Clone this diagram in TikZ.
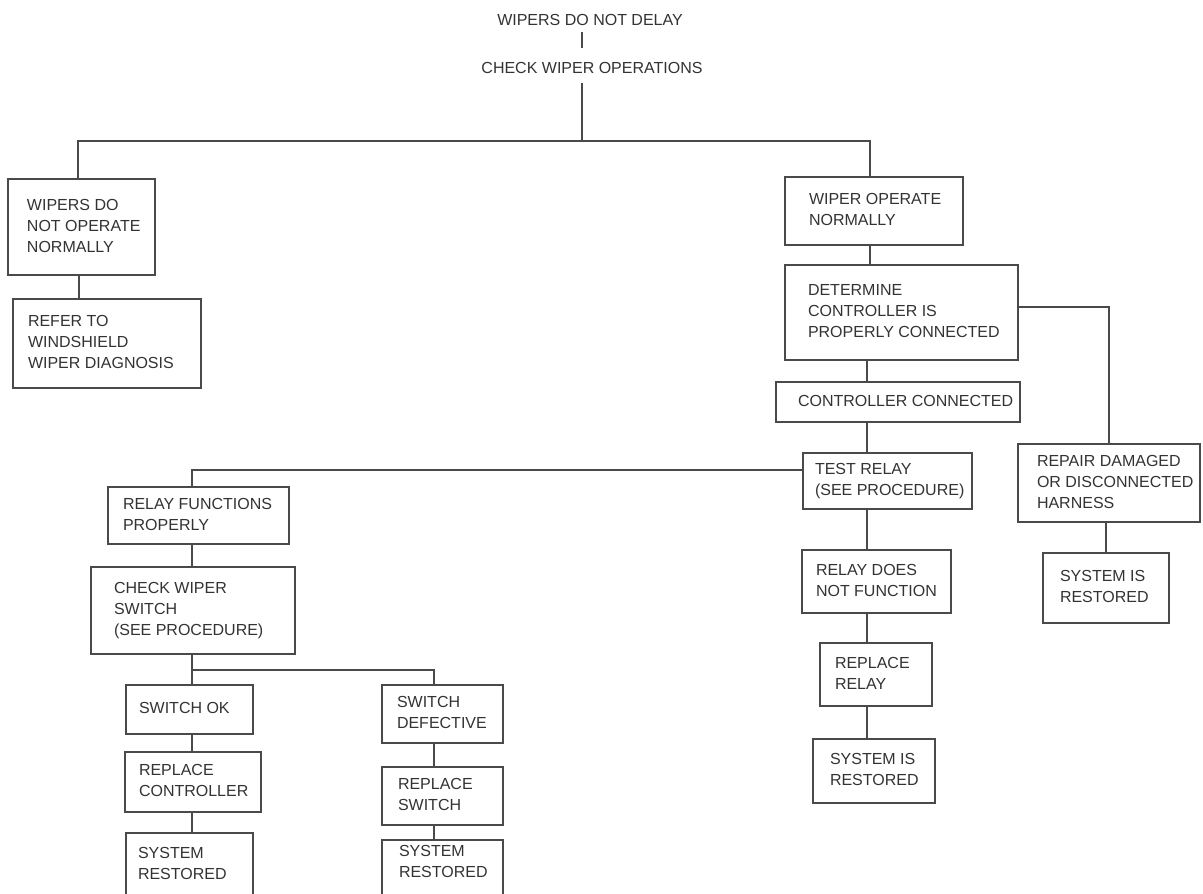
\documentclass[tikz,border=0pt]{standalone}
\usepackage{fontspec}
\setmainfont{Liberation Sans}
\usetikzlibrary{calc}
\definecolor{ink}{HTML}{333333}
\definecolor{lin}{HTML}{4A4A4A}
\newcommand\bxt[3]{\makebox[#1pt][l]{\hspace{#2pt}\begin{tabular}{@{}l@{}}#3\end{tabular}}}
\begin{document}
\begin{tikzpicture}[x=1pt,y=-1pt,
  every node/.style={font=\fontsize{16}{21}\selectfont, text=ink},
  box/.style={draw=lin, line width=1.5pt, anchor=north west, inner sep=0pt, outer sep=0pt, rectangle},
  con/.style={draw=lin, line width=1.5pt}]
\fill[white] (0,0) rectangle (1203,894);
\useasboundingbox (0,0) rectangle (1203,894);
\clip (0,0) rectangle (1203,894);

\node[inner sep=6pt] (t1) at (590,20) {WIPERS DO NOT DELAY};
\node[inner sep=9pt] (t2) at (592,68) {CHECK WIPER OPERATIONS};

\node[box, minimum height=96pt] (b1) at (8,179) {\bxt{147}{19}{WIPERS DO\\NOT OPERATE\\NORMALLY}};
\node[box, minimum height=89pt] (b2) at (13,299) {\bxt{188}{15}{REFER TO\\WINDSHIELD\\WIPER DIAGNOSIS}};
\node[box, minimum height=68pt] (b3) at (785,177) {\bxt{178}{24}{WIPER OPERATE\\NORMALLY}};
\node[box, minimum height=95pt] (b4) at (785,265) {\bxt{233}{23}{DETERMINE\\CONTROLLER IS\\PROPERLY CONNECTED}};
\node[box, minimum height=40pt] (b5) at (776,382) {\bxt{244}{22}{CONTROLLER CONNECTED}};
\node[box, minimum height=56pt] (b6) at (803,453) {\bxt{169}{12}{TEST RELAY\\(SEE PROCEDURE)}};
\node[box, minimum height=63pt] (b7) at (802,550) {\bxt{149}{14}{RELAY DOES\\NOT FUNCTION}};
\node[box, minimum height=63pt] (b8) at (820,643) {\bxt{112}{15}{REPLACE\\RELAY}};
\node[box, minimum height=64pt] (b9) at (813,739) {\bxt{122}{17}{SYSTEM IS\\RESTORED}};
\node[box, minimum height=78pt] (b10) at (1018,444) {\bxt{182}{19}{REPAIR DAMAGED\\OR DISCONNECTED\\HARNESS}};
\node[box, minimum height=70pt] (b11) at (1043,553) {\bxt{126}{17}{SYSTEM IS\\RESTORED}};
\node[box, minimum height=57pt] (b12) at (108,487) {\bxt{181}{15}{RELAY FUNCTIONS\\PROPERLY}};
\node[box, minimum height=87pt] (b13) at (91,567) {\bxt{204}{23}{CHECK WIPER\\SWITCH\\(SEE PROCEDURE)}};
\node[box, minimum height=49pt] (b14) at (126,685) {\bxt{127}{13}{SWITCH OK}};
\node[box, minimum height=60pt] (b15) at (125,752) {\bxt{136}{14}{REPLACE\\CONTROLLER}};
\node[box, draw=none, minimum height=64pt] (b16) at (126,833) {\bxt{127}{12}{SYSTEM\\RESTORED}};
\node[box, minimum height=58pt] (b17) at (382,685) {\bxt{121}{15}{SWITCH\\DEFECTIVE}};
\node[box, minimum height=58pt] (b18) at (382,767) {\bxt{121}{16}{REPLACE\\SWITCH}};
\node[box, draw=none, minimum height=46pt] (b19) at (382,840) {\bxt{121}{17}{SYSTEM\\RESTORED}};

\coordinate (j1) at (582,141);
\coordinate (sp) at (867,0);
\coordinate (sp2) at (192,0);
\coordinate (sp3) at (434,0);
\coordinate (j2) at (192,670);
\coordinate (j3) at (192,470);
\coordinate (la) at (78,0);
\coordinate (lb) at (79,0);
\coordinate (ra) at (870,0);

\draw[con] (t1.south -| j1) -- ($(t2.north -| j1)+(0,-5)$);
\draw[con] (t2.south -| j1) -- (j1);
\draw[con] (b1.north -| la) -- (j1 -| la) -- (j1 -| ra) -- (b3.north -| ra);
\draw[con] (b1.south -| lb) -- (b2.north -| lb);
\draw[con] (b3.south -| ra) -- (b4.north -| ra);
\draw[con] ($(b4.east)+(0,-5.5)$) -| (b10.north);
\draw[con] (b4.south -| sp) -- (b5.north -| sp);
\draw[con] (b5.south -| sp) -- (b6.north -| sp);
\draw[con] (b6.south -| sp) -- (b7.north -| sp);
\draw[con] (b7.south -| sp) -- (b8.north -| sp);
\draw[con] (b8.south -| sp) -- (b9.north -| sp);
\draw[con] (b10.south -| b11.north) -- (b11.north);
\draw[con] (b6.west |- j3) -- (j3) -- (b12.north -| sp2);
\draw[con] (b12.south -| sp2) -- (b13.north -| sp2);
\draw[con] (b13.south -| sp2) -- (b14.north -| sp2);
\draw[con] (j2) -| (b17.north -| sp3);
\draw[con] (b14.south -| sp2) -- (b15.north -| sp2);
\draw[con] (b15.south -| sp2) -- (b16.north -| sp2);
\draw[con] (b17.south -| sp3) -- (b18.north -| sp3);
\draw[con] (b18.south -| sp3) -- (b19.north -| sp3);
\draw[con] ($(b16.north west)+(0,70)$) -- (b16.north west) -- (b16.north east) -- ($(b16.north east)+(0,70)$);
\draw[con] ($(b19.north west)+(0,70)$) -- (b19.north west) -- (b19.north east) -- ($(b19.north east)+(0,70)$);
\end{tikzpicture}
\end{document}
